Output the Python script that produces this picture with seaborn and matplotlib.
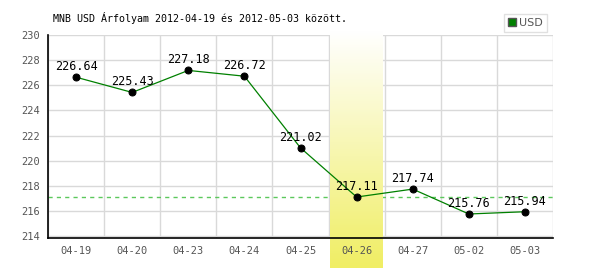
import numpy as np
import matplotlib
matplotlib.use("Agg")
import matplotlib.pyplot as plt
import seaborn as sns
import pandas as pd
from matplotlib.colors import LinearSegmentedColormap
from matplotlib.patches import Rectangle

dates = ["04-19", "04-20", "04-23", "04-24", "04-25", "04-26", "04-27", "05-02", "05-03"]
rates = [226.64, 225.43, 227.18, 226.72, 221.02, 217.11, 217.74, 215.76, 215.94]
yticks = [214, 216, 218, 220, 222, 224, 226, 228, 230]
highlight = "04-26"
title = "MNB USD Árfolyam 2012-04-19 és 2012-05-03 között."
series_name = "USD"

sns.set_theme(style="white")
plt.rcParams['font.family'] = ['DejaVu Sans Mono', 'DejaVu Sans']

df = pd.DataFrame({"date": dates, "rate": rates, "x": np.arange(len(dates))})

fig = plt.figure(figsize=(6, 2.7), dpi=100)
ax = fig.add_axes([0.08, 0.1185, 0.8417, 0.752])

ylo, yhi = 213.85, 230.0
hi = dates.index(highlight)

for b in np.arange(-0.5, len(dates) + 0.5, 1):
    ax.axvline(b, color="#d9d9d9", lw=1, zorder=0.5)
for t in yticks:
    ax.axhline(t, color="#d9d9d9", lw=1, zorder=0.5)

ax.axhline(rates[hi], color="#5cc85c", lw=1.0, ls=(0, (3, 3)), zorder=0.8)

cmap = LinearSegmentedColormap.from_list("hl", ["#ffffff", "#f0ee64"])
grad = np.linspace(0, 1, 100).reshape(-1, 1)
ax.imshow(grad, cmap=cmap, aspect="auto", origin="upper",
          extent=(hi - 0.47, hi + 0.47, 211.5, 230.4), clip_on=False, zorder=1)

sns.lineplot(data=df, x="x", y="rate", ax=ax, color="#008000", lw=0.9, zorder=3,
             marker="o", markersize=5, markerfacecolor="black", markeredgecolor="black",
             label=series_name, legend=False)

for xi, v in zip(df["x"], rates):
    ax.annotate(f"{v:.2f}", (xi, v), xytext=(0, 3), textcoords="offset points",
                ha="center", va="bottom", fontsize=8.5, color="black", zorder=4)

ax.set_xlim(-0.5, len(dates) - 0.5)
ax.set_ylim(ylo, yhi)
ax.set_xticks(df["x"])
ax.set_xticklabels(dates)
ax.set_yticks(yticks)
ax.tick_params(axis="both", labelsize=7.5, colors="#555555", length=0, pad=6)
ax.xaxis.set_zorder(5)
ax.set_xlabel("")
ax.set_ylabel("")
for s in ["top", "right"]:
    ax.spines[s].set_visible(False)
for s in ["left", "bottom"]:
    ax.spines[s].set_color("black")
    ax.spines[s].set_linewidth(1.2)
    ax.spines[s].set_zorder(6)

fig.text(53 / 600, 1 - 18 / 270, title, fontsize=7.2, color="black", va="center", ha="left")

leg = ax.legend(handles=[Rectangle((0, 0), 1, 1, facecolor="#008000", edgecolor="#555555")],
                labels=[series_name], loc="lower right", bbox_to_anchor=(1.0, 0.985),
                frameon=True, fontsize=8, handlelength=0.7, handleheight=0.7,
                handletextpad=0.3, borderpad=0.4, fancybox=False)
leg.get_frame().set_edgecolor("#d9d9d9")
for t in leg.get_texts():
    t.set_color("#555555")
    t.set_family("DejaVu Sans")

fig.savefig("out.png", dpi=100)
